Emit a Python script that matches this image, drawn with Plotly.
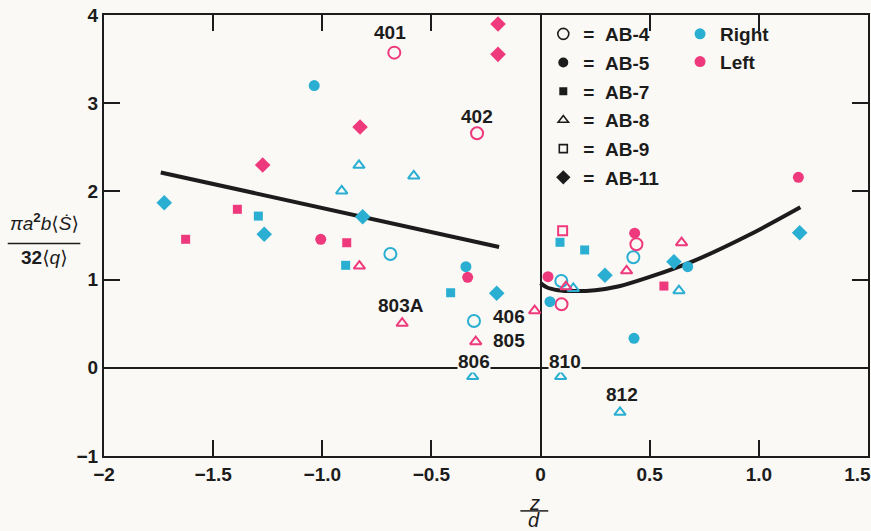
import plotly.graph_objects as go

# ---------------- data ----------------
x_tick_vals = [-2, -1.5, -1.0, -0.5, 0, 0.5, 1.0, 1.5]
x_tick_text = ["−2", "−1.5", "−1.0", "−0.5", "0", "0.5", "1.0", "1.5\u00a0\u00a0\u00a0\u00a0"]
y_tick_vals = [-1, 0, 1, 2, 3, 4]
y_tick_text = ["−1", "0", "1", "2", "3", "4"]

ab4_right_x = [-0.688, -0.305, 0.095, 0.425]
ab4_right_y = [1.29, 0.531, 0.984, 1.253]
ab4_left_x = [-0.670, -0.291, 0.096, 0.439]
ab4_left_y = [3.573, 2.659, 0.72, 1.40]

ab5_right_x = [-1.037, -0.342, 0.043, 0.428, 0.674]
ab5_right_y = [3.20, 1.146, 0.75, 0.334, 1.146]
ab5_left_x = [-1.007, -0.334, 0.034, 0.431, 1.181]
ab5_left_y = [1.457, 1.026, 1.033, 1.526, 2.16]

ab7_right_x = [-1.293, -0.893, -0.412, 0.089, 0.202]
ab7_right_y = [1.72, 1.162, 0.851, 1.423, 1.336]
ab7_left_x = [-1.626, -1.389, -0.888, 0.565]
ab7_left_y = [1.457, 1.797, 1.418, 0.927]

ab8_right_x = [-0.911, -0.832, -0.581, -0.311, 0.092, 0.150, 0.364, 0.634]
ab8_right_y = [2.005, 2.296, 2.175, -0.10, -0.10, 0.90, -0.505, 0.874]
ab8_left_x = [-0.830, -0.634, -0.297, -0.027, 0.116, 0.394, 0.646]
ab8_left_y = [1.154, 0.505, 0.296, 0.647, 0.92, 1.10, 1.418]

ab9_right_x = []
ab9_right_y = []
ab9_left_x = [0.101]
ab9_left_y = [1.555]

ab11_right_x = [-1.724, -1.266, -0.815, -0.201, 0.295, 0.611, 1.187]
ab11_right_y = [1.872, 1.514, 1.713, 0.845, 1.049, 1.203, 1.532]
ab11_left_x = [-1.273, -0.827, -0.195, -0.195]
ab11_left_y = [2.30, 2.73, 3.898, 3.554]

left_fit_x = [-1.74, -0.19]
left_fit_y = [2.215, 1.37]
right_fit_x = [0.0, 0.03, 0.08, 0.15, 0.25, 0.36, 0.5, 0.7, 0.95, 1.19]
right_fit_y = [0.96, 0.91, 0.88, 0.87, 0.88, 0.925, 1.03, 1.21, 1.50, 1.82]

run_labels = ["401", "402", "803A", "406", "805", "806", "810", "812"]
run_label_x = [-0.690, -0.289, -0.640, -0.145, -0.145, -0.305, 0.112, 0.375]
run_label_y = [3.807, 2.844, 0.712, 0.587, 0.304, 0.077, 0.077, -0.30]
run_label_cut = [False, False, False, False, False, True, True, False]

series_names = ["AB-4", "AB-5", "AB-7", "AB-8", "AB-9", "AB-11"]
side_names = ["Right", "Left"]

# ---------------- style ----------------
CYAN = "#2aafd3"
PINK = "#ee3a7c"
BLACK = "#1c1c1c"
BG = "#fbf9f5"
FONT = "Liberation Sans, Arial, DejaVu Sans, sans-serif"

symbols = {
    "AB-4": ("circle-open", 12),
    "AB-5": ("circle", 11),
    "AB-7": ("square", 9),
    "AB-8": ("triangle-up-open", 10),
    "AB-9": ("square-open", 9),
    "AB-11": ("diamond", 12),
}
data = {
    "AB-4": [(ab4_right_x, ab4_right_y), (ab4_left_x, ab4_left_y)],
    "AB-5": [(ab5_right_x, ab5_right_y), (ab5_left_x, ab5_left_y)],
    "AB-7": [(ab7_right_x, ab7_right_y), (ab7_left_x, ab7_left_y)],
    "AB-8": [(ab8_right_x, ab8_right_y), (ab8_left_x, ab8_left_y)],
    "AB-9": [(ab9_right_x, ab9_right_y), (ab9_left_x, ab9_left_y)],
    "AB-11": [(ab11_right_x, ab11_right_y), (ab11_left_x, ab11_left_y)],
}

fig = go.Figure()

# fit curves
fig.add_trace(go.Scatter(x=left_fit_x, y=left_fit_y, mode="lines",
                         line=dict(color=BLACK, width=4), showlegend=False, hoverinfo="skip"))
fig.add_trace(go.Scatter(x=right_fit_x, y=right_fit_y, mode="lines",
                         line=dict(color=BLACK, width=4, shape="spline", smoothing=1.0),
                         showlegend=False, hoverinfo="skip"))

# data points
for name in series_names:
    sym, size = symbols[name]
    is_open = sym.endswith("-open")
    for (xs, ys), color in zip(data[name], [CYAN, PINK]):
        if not xs:
            continue
        fig.add_trace(go.Scatter(
            x=xs, y=ys, mode="markers", showlegend=False,
            marker=dict(symbol=sym, size=size, color=color,
                        line=dict(color=color, width=2 if is_open else 0)),
        ))

# legend entries (symbol key)
for name in series_names:
    sym, size = symbols[name]
    is_open = sym.endswith("-open")
    fig.add_trace(go.Scatter(
        x=[None], y=[None], mode="markers", name="=\u00a0\u00a0" + name,
        legend="legend", legendgroup=name,
        marker=dict(symbol=sym, size=size - 1, color=BLACK,
                    line=dict(color=BLACK, width=1.6 if is_open else 0)),
    ))
for side, color in zip(side_names, [CYAN, PINK]):
    fig.add_trace(go.Scatter(
        x=[None], y=[None], mode="markers", name=side,
        legend="legend2", legendgroup=side,
        marker=dict(symbol="circle", size=11, color=color),
    ))

# run labels
for t, lx, ly, cut in zip(run_labels, run_label_x, run_label_y, run_label_cut):
    fig.add_annotation(x=lx, y=ly, text=t, showarrow=False,
                       xanchor="center", yanchor="middle",
                       font=dict(family=FONT, size=19, color=BLACK, weight="bold"),
                       bgcolor=BG if cut else None, borderpad=0)

# y-axis label (fraction)
fig.add_annotation(xref="paper", yref="paper", x=-0.0785, y=0.531,
                   xanchor="center", yanchor="middle",
                   text="<i>πa</i><sup><b>2</b></sup><i>b</i>⟨<i>Ṡ</i>⟩", showarrow=False,
                   font=dict(family=FONT, size=19, color=BLACK))
fig.add_annotation(xref="paper", yref="paper", x=-0.0785, y=0.451,
                   xanchor="center", yanchor="middle",
                   text="<b>32</b>⟨<i>q</i>⟩", showarrow=False,
                   font=dict(family=FONT, size=19, color=BLACK))
fig.add_shape(type="line", xref="paper", yref="paper", x0=-0.126, x1=-0.031,
              y0=0.482, y1=0.482, line=dict(color=BLACK, width=1.5))

# x-axis label (fraction)
fig.add_annotation(xref="paper", yref="paper", x=0.563, y=-0.106,
                   xanchor="center", yanchor="middle",
                   text="<i>z</i>", showarrow=False,
                   font=dict(family=FONT, size=20, color=BLACK))
fig.add_annotation(xref="paper", yref="paper", x=0.563, y=-0.146,
                   xanchor="center", yanchor="middle",
                   text="<i>d</i>", showarrow=False,
                   font=dict(family=FONT, size=20, color=BLACK))
fig.add_shape(type="line", xref="paper", yref="paper", x0=0.545, x1=0.5815,
              y0=-0.1245, y1=-0.1245, line=dict(color=BLACK, width=1.5))

axis_common = dict(
    showline=True, linecolor=BLACK, linewidth=2, mirror="ticks",
    ticks="inside", ticklen=16, tickwidth=2, tickcolor=BLACK,
    showgrid=False, zeroline=True, zerolinecolor=BLACK, zerolinewidth=2,
    tickfont=dict(family=FONT, size=19, color=BLACK, weight="bold"), automargin=False,
    ticklabeloverflow="allow",
)

fig.update_layout(
    width=871, height=531,
    margin=dict(l=104, r=3, t=15, b=75),
    paper_bgcolor=BG, plot_bgcolor=BG,
    font=dict(family=FONT, color=BLACK),
    xaxis=dict(range=[-2, 1.5], tickvals=x_tick_vals, ticktext=x_tick_text, **axis_common),
    yaxis=dict(range=[-1, 4], tickvals=y_tick_vals, ticktext=y_tick_text, **axis_common),
    legend=dict(x=0.575, y=1.0, xanchor="left", yanchor="top",
                bgcolor="rgba(0,0,0,0)",
                font=dict(family=FONT, size=19, color=BLACK, weight="bold"),
                tracegroupgap=1, itemclick=False),
    legend2=dict(x=0.754, y=1.0, xanchor="left", yanchor="top",
                 bgcolor="rgba(0,0,0,0)",
                 font=dict(family=FONT, size=19, color=BLACK, weight="bold"),
                 tracegroupgap=0, itemclick=False),
    showlegend=True,
)

fig.write_html(
    "out.html",
    config={"displayModeBar": False},
    post_script="document.body.style.margin='0px';document.body.style.background='" + BG + "';",
)
